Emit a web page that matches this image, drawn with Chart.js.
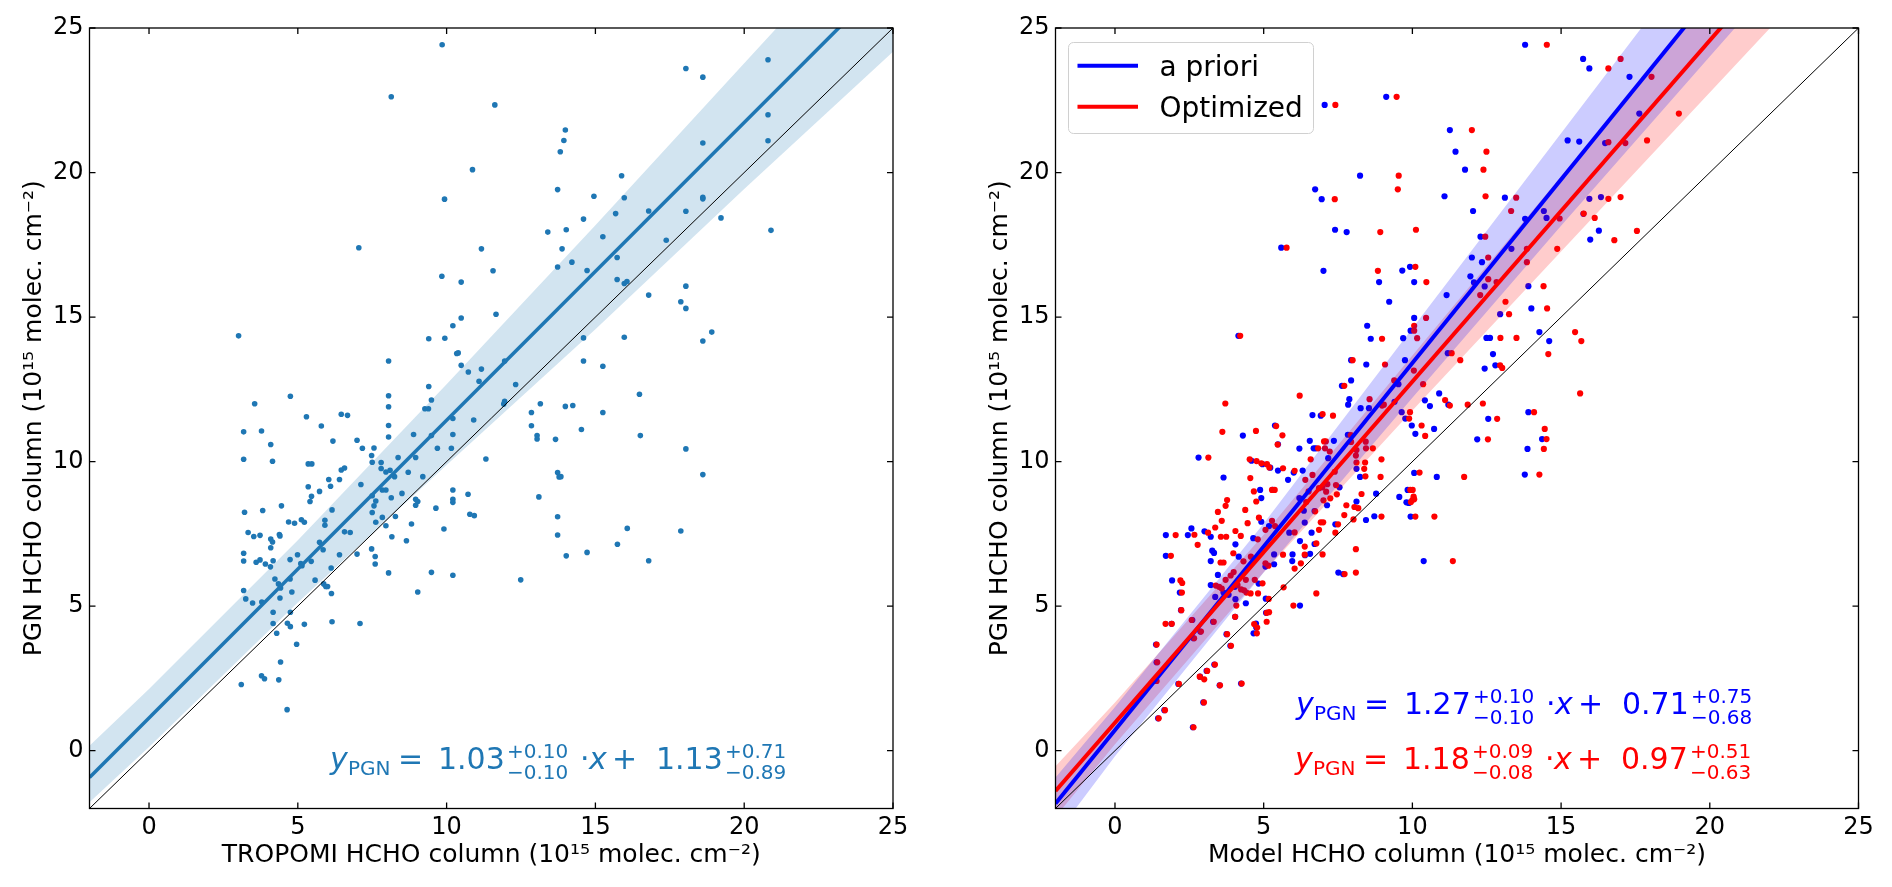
<!DOCTYPE html>
<html>
<head>
<meta charset="utf-8">
<title>PGN HCHO column comparison</title>
<script src="https://cdn.jsdelivr.net/npm/chart.js@4.4.1/dist/chart.umd.min.js"></script>
<style>
  html, body { margin: 0; padding: 0; background: #fff; }
  #wrap { position: relative; width: 1892px; height: 887px; }
  canvas { position: absolute; top: 0; }
  #left { left: 0; }
  #right { left: 966px; }
</style>
</head>
<body>
<div id="wrap">
  <canvas id="left" width="966" height="887"></canvas>
  <canvas id="right" width="926" height="887"></canvas>
</div>
<script>
// axis range and tick labels (same on both panels)
const axisMin = -2;
const axisMax = 25;
const tickValues = [0, 5, 10, 15, 20, 25];

// fits read from the annotations: slope, +err, -err, intercept, +err, -err
const tropomiFit = [1.03, 0.10, 0.10, 1.13, 0.71, 0.89];
const aprioriFit = [1.27, 0.10, 0.10, 0.71, 0.75, 0.68];
const optimizedFit = [1.18, 0.09, 0.08, 0.97, 0.51, 0.63];

// half widths of the shaded bands above / below each fit line
const bandX = [-2, 0, 5, 10, 15, 20, 25];
const tropomiBandUp = [1.1, 1.0, 1.0, 1.25, 1.6, 2.05, 2.5];
const tropomiBandLow = [0.85, 1.0, 1.15, 1.55, 2.0, 2.3, 2.7];
const aprioriBandUp = [0.9, 0.8, 0.8, 1.2, 1.6, 2.0, 2.5];
const aprioriBandLow = [1.1, 0.9, 0.9, 1.2, 1.6, 2.1, 2.6];
const optimizedBandUp = [0.85, 0.7, 0.6, 0.9, 1.2, 1.4, 1.7];
const optimizedBandLow = [0.9, 0.75, 0.7, 1.0, 1.4, 1.8, 2.2];

const legendLabels = ["a priori", "Optimized"];

// left panel: TROPOMI (x) vs PGN (y)
const tropomiPoints = [
  [9.85,24.42],[8.14,22.62],[11.62,22.34],[13.99,21.47],[13.94,21.11],[13.82,20.72],[18.61,21.02],[18.04,23.60],
  [18.61,23.30],[10.87,20.10],[9.93,19.08],[15.88,19.89],[13.73,19.41],[14.95,19.18],[15.97,19.13],[18.61,19.14],
  [18.61,19.09],[15.68,18.58],[16.79,18.67],[18.04,18.66],[19.22,18.43],[14.60,18.39],[13.40,17.94],[14.02,18.02],
  [15.25,17.78],[17.38,17.66],[7.05,17.40],[11.17,17.36],[13.88,17.36],[15.73,17.06],[13.73,16.73],[14.21,16.90],
  [14.72,16.61],[11.56,16.60],[9.84,16.41],[10.49,16.21],[15.73,16.30],[15.97,16.16],[16.06,16.23],[18.04,16.07],
  [16.79,15.76],[17.87,15.53],[18.04,15.30],[11.66,15.10],[10.49,14.97],[10.21,14.70],[3.01,14.35],[9.40,14.25],
  [9.94,14.27],[14.60,14.28],[15.97,14.30],[18.91,14.48],[18.61,14.17],[20.8,23.9],[20.8,22.0],[20.8,21.1],[20.9,18.0],
  [8.05,13.48],[10.34,13.74],[10.39,13.76],[10.49,13.33],[10.73,13.10],[11.17,13.20],[11.09,12.78],[11.95,13.48],
  [12.32,12.67],[14.60,13.48],[15.25,13.30],[8.05,12.28],[8.05,11.90],[9.40,12.60],[9.49,12.13],[9.27,11.83],
  [9.39,11.83],[4.75,12.26],[3.55,12.00],[3.18,11.03],[3.78,11.06],[4.09,10.59],[3.18,10.08],[4.15,10.01],
  [5.29,11.55],[5.79,11.23],[6.46,11.64],[6.67,11.60],[6.18,10.71],[6.99,10.74],[7.17,10.46],[7.56,10.47],
  [7.48,10.21],[8.05,11.25],[8.05,10.85],[8.89,10.94],[9.49,10.90],[10.21,11.49],[10.21,10.94],[10.91,11.44],
  [9.69,10.46],[10.16,10.46],[8.96,10.14],[8.37,10.14],[7.50,9.98],[7.80,9.97],[7.80,9.76],[7.96,9.64],
  [8.10,9.70],[8.25,9.48],[8.71,9.63],[9.20,9.48],[11.32,10.09],[5.35,9.92],[5.47,9.92],[6.46,9.71],
  [6.57,9.78],[6.04,9.38],[6.40,9.38],[6.10,9.15],[5.35,9.13],[5.73,8.97],[5.46,8.80],[5.41,8.62],
  [7.12,9.21],[7.50,8.82],[7.62,8.64],[7.56,8.47],[7.50,8.24],[7.84,9.02],[7.96,9.02],[8.14,8.75],
  [8.50,8.90],[8.28,8.10],[7.84,8.07],[7.62,7.90],[7.96,7.78],[8.82,7.84],[8.96,8.70],[9.03,8.62],
  [8.96,8.49],[9.64,8.39],[10.21,9.02],[10.21,8.70],[10.21,8.59],[10.72,8.87],[10.78,8.18],[10.93,8.13],
  [9.91,7.67],[8.16,7.40],[8.65,7.26],[7.48,6.98],[7.60,6.72],[7.60,6.46],[8.05,6.15],[9.49,6.17],
  [10.21,6.07],[9.03,5.49],[6.99,6.80],[6.40,6.78],[6.76,7.55],[6.57,7.57],[6.15,8.33],[5.91,7.97],
  [5.91,7.80],[5.73,7.21],[5.85,6.95],[5.12,7.99],[5.22,7.90],[4.89,7.87],[4.69,7.91],[4.45,8.47],
  [3.82,8.31],[3.21,8.25],[3.33,7.55],[3.52,7.41],[3.73,7.45],[4.38,7.48],[4.40,7.43],[4.09,7.32],
  [4.15,7.22],[4.09,7.02],[3.18,6.83],[3.18,6.56],[3.60,6.52],[3.73,6.60],[3.91,6.46],[4.17,6.57],
  [4.08,6.36],[4.74,6.61],[4.99,6.78],[5.10,6.47],[5.14,6.40],[5.45,6.55],[6.12,6.32],[4.23,5.94],
  [4.35,5.77],[4.74,5.94],[4.42,5.63],[4.80,5.49],[4.40,5.28],[5.58,5.90],[5.87,5.77],[5.94,5.68],
  [6.00,5.68],[6.13,5.44],[3.18,5.54],[3.25,5.25],[3.48,5.11],[3.79,5.14],[4.17,4.79],[4.17,4.40],
  [4.65,4.41],[4.75,4.29],[4.75,4.79],[4.29,4.06],[5.22,4.37],[6.15,4.46],[7.09,4.40],[4.96,3.68],
  [4.42,3.07],[3.78,2.59],[3.88,2.49],[4.36,2.45],[3.10,2.29],[12.49,5.91],[12.85,11.70],[12.85,11.24],
  [13.15,12.00],[13.04,10.90],[13.04,10.78],[13.66,10.77],[13.99,11.91],[14.24,11.94],[14.53,11.11],[15.25,11.70],
  [16.48,12.33],[16.51,10.90],[18.04,10.44],[18.61,9.55],[13.73,9.62],[13.78,9.47],[13.84,9.48],[13.10,8.78],
  [13.73,8.09],[13.73,7.46],[14.02,6.74],[14.72,6.86],[15.74,7.14],[16.07,7.69],[16.79,6.57],[17.87,7.60],
  [11.95,12.09],[11.92,11.99],[4.64,1.42]
];

// right panel: a priori model (x) vs PGN (y)
const aprioriPoints = [
  [13.79,24.42],[15.74,23.93],[15.95,23.60],[9.12,22.62],[7.05,22.34],[11.26,21.47],[11.45,20.72],[15.22,21.11],
  [15.61,21.07],[8.24,19.89],[11.77,20.10],[6.73,19.42],[6.95,19.08],[11.08,19.18],[13.11,19.13],[12.04,18.67],
  [13.79,18.40],[14.42,18.67],[14.51,18.43],[15.95,19.09],[16.27,17.99],[15.98,17.68],[7.40,18.02],[7.79,17.94],
  [12.29,17.78],[5.59,17.40],[13.33,17.36],[12.00,17.06],[12.34,16.90],[7.01,16.60],[9.66,16.61],[9.92,16.74],
  [8.88,16.21],[10.06,16.21],[11.95,16.41],[12.07,16.20],[12.43,16.06],[11.15,15.76],[9.22,15.53],[13.90,16.07],
  [14.00,15.30],[12.95,15.10],[10.06,14.97],[8.48,14.70],[9.94,14.53],[8.60,14.25],[9.69,14.27],[12.49,14.28],
  [12.61,14.28],[14.27,14.48],[14.60,14.17],[4.15,14.35],[7.94,13.51],[8.45,13.36],[7.94,12.81],[9.75,13.51],
  [11.19,13.75],[12.71,13.72],[12.43,13.22],[12.79,13.33],[9.53,12.68],[7.63,12.62],[7.88,12.16],[7.84,11.97],
  [10.42,12.12],[10.59,11.92],[10.90,12.36],[11.21,11.97],[13.90,11.71],[12.55,11.48],[6.64,11.61],[6.92,11.59],
  [8.26,11.85],[8.54,11.85],[9.40,12.07],[9.64,11.71],[9.76,11.49],[17.30,23.31],[17.63,22.04],[16.48,21.02],
  [16.34,19.15],[15.75,18.57],
  [12.18,10.77],[13.87,10.44],[14.36,10.78],[13.78,9.55],[10.82,9.47],[10.06,9.61],[10.38,6.56],[9.56,8.78],
  [9.84,9.02],[9.80,8.59],[9.88,8.57],[9.94,8.10],[8.78,8.89],[8.44,7.98],[8.72,8.11],[10.73,11.13],
  [10.10,10.96],[9.98,11.25],[5.38,11.25],[4.30,10.90],[5.48,10.60],[6.20,10.45],[6.55,10.72],[6.68,10.46],
  [6.75,10.46],[7.17,10.12],[7.36,10.72],[7.83,10.93],[2.81,10.14],[3.65,9.45],[4.59,10.03],[4.96,9.91],
  [5.22,9.79],[5.48,9.69],[5.31,9.02],[4.88,9.02],[4.92,8.74],[5.82,9.37],[6.01,9.62],[6.31,9.69],
  [6.20,8.74],[6.35,8.30],[6.38,7.89],[6.71,8.29],[7.13,8.49],[7.55,9.11],[8.12,9.75],[8.12,8.62],
  [8.24,9.47],[5.18,7.77],[4.92,7.92],[4.65,7.35],[4.05,7.14],[4.16,6.71],[5.35,6.45],[5.35,6.79],
  [5.06,6.37],[5.96,6.56],[5.97,6.79],[6.22,7.25],[6.39,6.76],[6.56,6.81],[6.71,7.15],[6.61,7.54],
  [7.41,7.83],[7.51,6.16],[7.67,6.11],[6.22,5.02],[5.86,7.54],[2.57,7.69],[2.45,7.46],[1.71,7.46],
  [1.71,6.74],[1.92,5.89],[2.18,5.47],[3.01,7.59],[3.22,7.40],[3.27,6.92],[3.33,6.84],[3.22,6.56],
  [3.46,6.08],[3.22,5.73],[3.37,5.32],[3.65,5.47],[3.82,5.39],[4.05,5.24],[4.40,5.10],[4.66,4.06],
  [5.07,5.26],[4.83,5.78],[4.03,5.67],[1.38,2.41],[1.45,1.12],[2.62,0.81],[2.97,1.67],[3.08,2.76],
  [3.34,2.98],[2.86,2.56],[4.24,2.32],[2.60,4.52],[3.30,4.46],[3.75,4.03],[4.04,4.63],[2.22,4.86],
  [1.90,4.39],[1.40,3.06],[2.13,2.31],[3.52,2.26],[1.66,1.40],[2.64,3.89],[2.87,4.12],[3.88,3.63],
  [5.08,4.77],[4.75,4.26],[4.74,4.40],[1.38,3.67]
];

// right panel: optimized model (x) vs PGN (y)
const optimizedPoints = [
  [14.52,24.42],[9.47,22.62],[7.41,22.34],[12.00,21.47],[12.49,20.72],[12.39,20.10],[9.54,19.89],[9.51,19.42],
  [7.39,19.08],[12.46,19.18],[13.49,19.13],[13.32,18.67],[14.95,18.41],[15.76,18.58],[16.13,18.43],[10.12,18.02],
  [8.92,17.94],[12.45,17.78],[5.77,17.40],[12.55,17.06],[13.85,17.36],[14.87,17.36],[13.85,16.90],[8.84,16.60],
  [10.10,16.74],[10.47,16.21],[12.55,16.31],[12.83,16.21],[12.28,15.76],[14.41,16.07],[13.13,15.53],[14.53,15.30],
  [13.25,15.10],[10.46,14.97],[10.06,14.70],[10.06,14.53],[8.98,14.25],[10.16,14.27],[12.96,14.28],[13.50,14.28],
  [15.47,14.48],[15.68,14.17],[14.57,13.72],[4.21,14.35],[7.99,13.51],[9.08,13.36],[10.05,13.15],[9.39,12.81],
  [11.32,13.75],[11.61,13.51],[12.95,13.33],[13.02,13.24],[10.36,12.68],[7.71,12.62],[6.21,12.28],[3.71,12.01],
  [8.56,12.16],[8.98,11.94],[11.10,12.13],[11.26,11.94],[11.86,11.97],[12.37,12.01],[15.64,12.36],[14.09,11.71],
  [12.85,11.48],[6.98,11.64],[7.33,11.59],[9.04,11.97],[9.92,11.71],[9.89,11.49],[16.59,23.60],[17.00,23.93],
  [18.04,23.31],[18.96,22.04],[16.59,21.05],[17.16,21.02],[17.89,21.11],[16.59,19.09],[17.00,19.15],[16.79,17.66],
  [17.55,17.98],
  [3.61,11.03],[4.74,11.06],[3.14,10.14],[4.53,10.08],[4.76,10.02],[4.92,9.94],[5.11,9.91],[5.19,9.80],
  [5.42,11.23],[5.47,10.59],[5.63,10.91],[5.65,9.77],[6.04,9.68],[6.40,9.37],[5.28,9.02],[5.37,9.02],
  [4.55,9.43],[4.67,8.97],[3.77,8.67],[3.72,8.47],[3.46,8.26],[3.59,7.95],[4.38,8.33],[4.75,8.62],
  [4.84,8.06],[4.46,7.87],[2.67,7.47],[2.04,7.46],[2.78,7.12],[3.13,7.54],[3.37,7.72],[3.56,7.40],
  [3.74,7.40],[4.05,7.60],[4.23,7.43],[3.98,6.83],[3.65,6.51],[3.55,6.51],[1.88,6.74],[2.20,5.89],
  [2.26,5.80],[2.25,5.47],[2.23,4.86],[1.70,4.39],[1.91,4.39],[1.40,3.67],[1.42,3.06],[1.40,2.41],
  [1.68,1.40],[1.47,1.12],[2.15,2.31],[2.64,0.81],[2.99,1.67],[2.85,2.56],[3.00,2.47],[3.10,2.76],
  [3.36,2.98],[3.53,2.26],[2.58,4.52],[2.66,3.89],[2.89,4.12],[3.32,4.46],[3.77,4.03],[3.90,3.63],
  [4.04,4.63],[4.26,2.32],[4.08,5.02],[3.39,5.71],[3.50,5.67],[3.59,5.61],[3.72,5.91],[3.89,6.06],
  [3.99,6.18],[4.12,5.73],[4.24,5.58],[4.34,5.55],[4.42,5.47],[4.56,5.44],[4.70,5.91],[4.40,5.91],
  [4.96,5.79],[4.81,5.44],[4.32,6.55],[4.57,6.71],[4.80,7.31],[5.06,7.64],[5.28,7.95],[5.38,7.77],
  [5.06,6.48],[5.16,6.40],[5.10,4.77],[5.18,4.79],[5.10,4.46],[4.68,4.38],[4.78,4.26],[4.77,4.06],
  [5.17,5.25],[5.67,5.65],[5.65,6.78],[6.00,5.02],[6.04,6.30],[6.25,6.48],[6.38,6.78],[6.38,7.06],
  [6.04,7.55],[6.77,5.44],[6.98,6.79],[6.92,7.90],[7.00,7.90],[6.86,7.64],[6.77,7.17],[7.41,7.54],
  [7.50,7.83],[7.71,8.15],[7.78,8.49],[8.02,8.00],[7.72,6.11],[8.10,6.16],[8.10,6.97],[8.05,8.43],
  [8.18,8.39],[8.29,8.88],[7.46,8.87],[7.24,8.73],[7.10,8.96],[7.14,9.22],[6.97,9.11],[6.43,8.60],
  [6.73,8.28],[7.01,8.66],[7.43,9.19],[6.51,8.97],[6.86,9.08],[6.64,9.54],[6.58,10.08],[6.83,10.46],
  [7.06,10.46],[7.03,10.70],[7.09,10.70],[7.22,10.35],[7.39,9.65],[7.93,10.92],[7.94,10.68],[8.12,10.40],
  [8.10,10.21],[8.12,9.97],[8.41,9.97],[8.38,9.75],[8.42,9.49],[8.43,10.69],[8.44,10.46],[8.67,10.46],
  [8.93,9.47],[8.96,10.08],[8.96,8.10],[10.04,8.79],[10.00,8.67],[10.06,8.70],[9.93,9.02],[10.01,9.02],
  [9.95,8.60],[10.10,8.10],[10.24,9.62],[10.74,8.10],[11.74,9.47],[11.36,6.56],[10.31,11.25],[10.43,10.89],
  [12.54,10.77],[14.45,11.13],[14.51,10.78],[14.42,10.44],[14.27,9.55]
];

Chart.defaults.font.family = '"DejaVu Sans"';
Chart.defaults.color = '#000';

const toXY = pts => pts.map(p => ({ x: p[0], y: p[1] }));
const fitLine = fit => [axisMin, axisMax].map(x => ({ x, y: fit[0] * x + fit[3] }));
const bandEdge = (fit, w, sign) => bandX.map((x, i) => ({ x, y: fit[0] * x + fit[3] + sign * w[i] }));

// frame with inward ticks on all four sides
const framePlugin = {
  id: 'frame',
  afterDatasetsDraw(chart) {
    const { ctx, chartArea: a, scales: { x, y } } = chart;
    ctx.save();
    ctx.strokeStyle = '#000';
    ctx.lineWidth = 1.3;
    ctx.strokeRect(a.left, a.top, a.right - a.left, a.bottom - a.top);
    ctx.beginPath();
    tickValues.forEach(v => {
      const px = x.getPixelForValue(v), py = y.getPixelForValue(v);
      ctx.moveTo(px, a.bottom); ctx.lineTo(px, a.bottom - 6);
      ctx.moveTo(px, a.top); ctx.lineTo(px, a.top + 6);
      ctx.moveTo(a.left, py); ctx.lineTo(a.left + 6, py);
      ctx.moveTo(a.right, py); ctx.lineTo(a.right - 6, py);
    });
    ctx.stroke();
    ctx.restore();
  }
};

function drawEquation(ctx, x0, yb, color, fit) {
  const main = '30px "DejaVu Sans"';
  const ital = 'italic 30px "DejaVu Sans"';
  const small = '20px "DejaVu Sans"';
  ctx.save();
  ctx.fillStyle = color;
  ctx.textAlign = 'left';
  ctx.textBaseline = 'alphabetic';
  const put = (t, f, dx, dy) => { ctx.font = f; ctx.fillText(t, x0 + dx, yb + dy); };
  put('y', ital, 0, 0);
  put('PGN', small, 18, 6);
  put('=', main, 68, 0);
  put(fit[0].toFixed(2), main, 108, 0);
  put('+' + fit[1].toFixed(2), small, 177, -11);
  put('\u2212' + fit[2].toFixed(2), small, 177, 9.5);
  put('\u00b7', main, 250, 0);
  put('x', ital, 259, 0);
  put('+', main, 282, 0);
  put(fit[3].toFixed(2), main, 326, 0);
  put('+' + fit[4].toFixed(2), small, 395, -11);
  put('\u2212' + fit[5].toFixed(2), small, 395, 9.5);
  ctx.restore();
}

function drawLegend(ctx, colors) {
  ctx.save();
  ctx.beginPath();
  ctx.roundRect(102.5, 42.5, 245, 91, 5);
  ctx.fillStyle = 'rgba(255,255,255,0.8)';
  ctx.fill();
  ctx.strokeStyle = '#d0d0d0';
  ctx.lineWidth = 1;
  ctx.stroke();
  const rows = [65.7, 106.7];
  legendLabels.forEach((label, i) => {
    ctx.beginPath();
    ctx.strokeStyle = colors[i];
    ctx.lineWidth = 4;
    ctx.moveTo(111.5, rows[i]);
    ctx.lineTo(172, rows[i]);
    ctx.stroke();
    ctx.fillStyle = '#000';
    ctx.font = '28px "DejaVu Sans"';
    ctx.textBaseline = 'alphabetic';
    ctx.fillText(label, 193.5, rows[i] + 10.3);
  });
  ctx.restore();
}

function makeAxes(xTitle, yTitle) {
  const tickFont = { size: 24 };
  const titleFont = { size: 25 };
  return {
    x: {
      type: 'linear', min: axisMin, max: axisMax,
      afterBuildTicks: s => { s.ticks = tickValues.map(v => ({ value: v })); },
      afterFit: s => { s.height = 78.5; },
      grid: { display: false, drawTicks: false },
      border: { display: false },
      ticks: { font: tickFont, padding: 5, color: '#000' },
      title: { display: true, text: xTitle, font: titleFont, color: '#000', padding: { top: 0, bottom: 16.5 } }
    },
    y: {
      type: 'linear', min: axisMin, max: axisMax,
      afterBuildTicks: s => { s.ticks = tickValues.map(v => ({ value: v })); },
      afterFit: s => { s.width = 89.5; },
      grid: { display: false, drawTicks: false },
      border: { display: false },
      ticks: { font: tickFont, padding: 6, color: '#000' },
      title: { display: true, text: yTitle, font: titleFont, color: '#000', padding: { top: 19, bottom: 0 } }
    }
  };
}

const yTitle = 'PGN HCHO column (10\u00b9\u2075 molec. cm\u207b\u00b2)';

function bandSets(fit, up, low, fillColor) {
  return [
    { type: 'line', data: bandEdge(fit, up, 1), borderWidth: 0, pointRadius: 0, fill: '+1',
      backgroundColor: fillColor, borderColor: 'rgba(0,0,0,0)', order: 3 },
    { type: 'line', data: bandEdge(fit, low, -1), borderWidth: 0, pointRadius: 0, fill: false,
      borderColor: 'rgba(0,0,0,0)', order: 3 }
  ];
}

function lineSet(data, color, width, order) {
  return { type: 'line', data, borderColor: color, borderWidth: width, pointRadius: 0, fill: false, order };
}

function scatterSet(pts, color, radius, order) {
  return { type: 'scatter', data: toXY(pts), backgroundColor: color, borderWidth: 0,
    pointRadius: radius, pointHoverRadius: radius, order };
}

const identity = [{ x: axisMin, y: axisMin }, { x: axisMax, y: axisMax }];

new Chart(document.getElementById('left'), {
  type: 'scatter',
  data: {
    datasets: [
      scatterSet(tropomiPoints, '#1f77b4', 2.8, 5),
      ...bandSets(tropomiFit, tropomiBandUp, tropomiBandLow, 'rgba(31,119,180,0.2)'),
      lineSet(identity, '#000', 1, 2),
      lineSet(fitLine(tropomiFit), '#1f77b4', 3.5, 1)
    ]
  },
  options: {
    responsive: false, animation: false, devicePixelRatio: 1,
    layout: { padding: { left: 0, top: 28, right: 73, bottom: 0 } },
    plugins: { legend: { display: false }, tooltip: { enabled: false } },
    scales: makeAxes('TROPOMI HCHO column (10\u00b9\u2075 molec. cm\u207b\u00b2)', yTitle)
  },
  plugins: [framePlugin, {
    id: 'eqLeft',
    afterDraw(chart) { drawEquation(chart.ctx, 330, 769, '#1f77b4', tropomiFit); }
  }]
});

new Chart(document.getElementById('right'), {
  type: 'scatter',
  data: {
    datasets: [
      scatterSet(optimizedPoints, '#ff0000', 3.1, 5),
      scatterSet(aprioriPoints, '#0000ff', 3.1, 6),
      ...bandSets(aprioriFit, aprioriBandUp, aprioriBandLow, 'rgba(0,0,255,0.2)'),
      ...bandSets(optimizedFit, optimizedBandUp, optimizedBandLow, 'rgba(255,0,0,0.2)'),
      lineSet(identity, '#000', 1, 2),
      lineSet(fitLine(optimizedFit), '#ff0000', 4, 1),
      lineSet(fitLine(aprioriFit), '#0000ff', 4, 1)
    ]
  },
  options: {
    responsive: false, animation: false, devicePixelRatio: 1,
    layout: { padding: { left: 0, top: 28, right: 33.5, bottom: 0 } },
    plugins: { legend: { display: false }, tooltip: { enabled: false } },
    scales: makeAxes('Model HCHO column (10\u00b9\u2075 molec. cm\u207b\u00b2)', yTitle)
  },
  plugins: [framePlugin, {
    id: 'eqRight',
    afterDraw(chart) {
      drawEquation(chart.ctx, 330, 714, '#0000ff', aprioriFit);
      drawEquation(chart.ctx, 329, 769, '#ff0000', optimizedFit);
      drawLegend(chart.ctx, ['#0000ff', '#ff0000']);
    }
  }]
});
</script>
</body>
</html>
